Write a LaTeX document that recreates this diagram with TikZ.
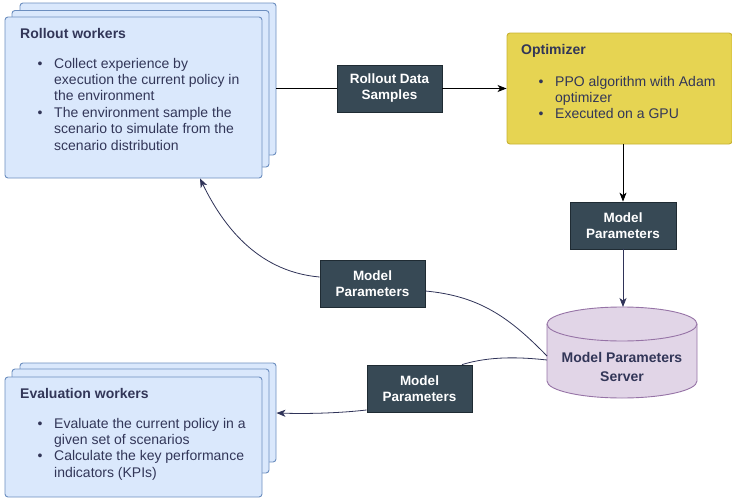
\documentclass[tikz,border=0pt]{standalone}
\usepackage{fontspec}
\setmainfont{Liberation Sans}
\usetikzlibrary{arrows.meta}
\definecolor{ink}{RGB}{50,54,88}
\definecolor{bluefill}{HTML}{DAE8FC}
\definecolor{bluedraw}{HTML}{6C8EBF}
\definecolor{yelfill}{HTML}{E6D452}
\definecolor{yeldraw}{HTML}{C8B232}
\definecolor{slate}{HTML}{374955}
\definecolor{slatedraw}{HTML}{1F2B33}
\definecolor{purfill}{HTML}{E1D5E7}
\definecolor{purdraw}{HTML}{9673A6}
\definecolor{navy}{HTML}{2F3358}
\begin{document}
\begin{tikzpicture}[x=1pt,y=-1pt,
  layer/.style={draw=bluedraw, fill=bluefill, rounded corners=3pt, line width=0.9pt, inner sep=0},
  tag/.style={draw=slatedraw, fill=slate, text=white, line width=0.8pt, inner sep=0,
    font=\bfseries\fontsize{13.5}{16}\selectfont, align=center, minimum width=105, minimum height=47},
  head/.style={anchor=base west, inner sep=0, text=ink, font=\bfseries\fontsize{14}{16.4}\selectfont},
  % multi-line items: the base anchor sits on the last line
  body/.style={anchor=base west, inner sep=0, text=ink, align=left, font=\fontsize{14}{16.4}\selectfont},
  bullet/.style={anchor=base, inner sep=0, text=ink, font=\fontsize{14}{16.4}\selectfont},
  flow/.style={line width=0.8pt, -{Stealth[length=9pt, width=7pt, inset=2.5pt]}},
  plain/.style={line width=0.8pt},
  curved/.style={navy, line width=0.8pt},
  curvedarrow/.style={navy, line width=0.8pt, -{Stealth[length=9pt, width=7pt, inset=2.5pt]}}]
\useasboundingbox (0,0) rectangle (732,498);

% rollout workers stack (back to front)
\node[layer, minimum width=256, minimum height=152] (rollC) at (148,79) {};
\node[layer, minimum width=257, minimum height=156.5] (rollB) at (140.5,88.75) {};
\node[layer, minimum width=257, minimum height=161] (rollA) at (133.5,97.5) {};
\node[head] (rollT) at (20,38) {Rollout workers};
\node[bullet] (rollD1) at (40,68) {•};
\node[body] (rollL1) at (54,100.8) {Collect experience by\\execution the current policy in\\the environment};
\node[bullet] (rollD2) at (40,117.2) {•};
\node[body] (rollL2) at (54,150) {The environment sample the\\scenario to simulate from the\\scenario distribution};

% evaluation workers stack (back to front)
\node[layer, minimum width=256, minimum height=99] (evalC) at (148,412.5) {};
\node[layer, minimum width=257, minimum height=104] (evalB) at (140.5,421) {};
\node[layer, minimum width=257, minimum height=120] (evalA) at (133.5,437) {};
\node[head] (evalT) at (20,398) {Evaluation workers};
\node[bullet] (evalD1) at (40,428) {•};
\node[body] (evalL1) at (54,444.4) {Evaluate the current policy in a\\given set of scenarios};
\node[bullet] (evalD2) at (40,460.8) {•};
\node[body] (evalL2) at (54,477.2) {Calculate the key performance\\indicators (KPIs)};

% optimizer
\node[draw=yeldraw, fill=yelfill, rounded corners=3pt, line width=0.9pt, inner sep=0,
      minimum width=225, minimum height=111] (opt) at (619.5,88.5) {};
\node[head] (optT) at (521,54) {Optimizer};
\node[bullet] (optD1) at (541,86) {•};
\node[body] (optL1) at (555,102.4) {PPO algorithm with Adam\\optimizer};
\node[bullet] (optD2) at (541,118.8) {•};
\node[body] (optL2) at (555,118.8) {Executed on a GPU};

% parameter server cylinder
\coordinate (srvTop) at (622,307);
\fill[purfill] (547,324) -- (547,381) arc[start angle=180, end angle=0, x radius=75, y radius=17]
  -- (697,324) -- cycle;
\draw[purdraw, line width=0.9pt, fill=purfill] (622,324) ellipse[x radius=75, y radius=17];
\draw[purdraw, line width=0.9pt] (547,324) -- (547,381) arc[start angle=180, end angle=0, x radius=75, y radius=17] -- (697,324);
\node[inner sep=0, text=ink, align=center, font=\bfseries\fontsize{14}{19}\selectfont] (srv) at (622,367) {Model Parameters\\Server};
\coordinate (srvA) at (547,356);
\coordinate (srvB) at (547,360);

% data/parameter labels
\node[tag] (rds) at (389.5,88.5) {Rollout Data\\Samples};
\node[tag, minimum width=106] (mp1) at (623,225.5) {Model\\Parameters};
\node[tag] (mp2) at (372.5,283.5) {Model\\Parameters};
\node[tag] (mp3) at (419.5,388.5) {Model\\Parameters};

% connectors
\draw[plain] (rds.west -| rollC.east) -- (rds.west);
\draw[flow] (rds.east) -- (opt.west);
\draw[flow] (mp1.north |- opt.south) -- (mp1.north);
\draw[curvedarrow] (mp1.south) -- (mp1.south |- srvTop);
\draw[curved] (srvA) .. controls (510,318) and (480,296) .. (mp2.east |- 0,291);
\draw[curvedarrow] (mp2.west |- 0,277) .. controls (262,272) and (226,232) .. (rollA.south -| 200,0);
\draw[curved] (srvB) .. controls (520,357) and (490,356) .. (mp3.north -| 462,0);
\draw[curvedarrow] (mp3.west |- 0,410) .. controls (340,413) and (310,414) .. (evalC.east |- 0,413);
\end{tikzpicture}
\end{document}
